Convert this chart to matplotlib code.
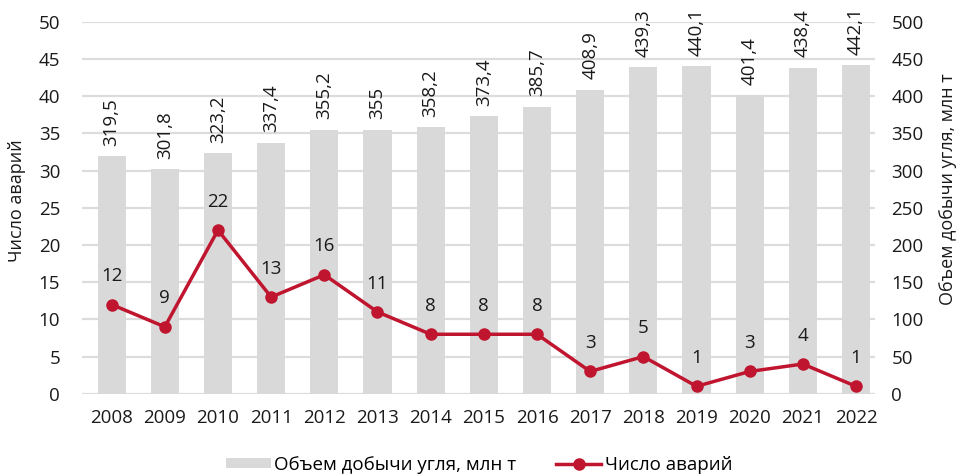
import matplotlib.pyplot as plt
import numpy as np

plt.rcParams['font.family'] = ['Open Sans', 'DejaVu Sans']

years = ['2008', '2009', '2010', '2011', '2012', '2013', '2014', '2015',
         '2016', '2017', '2018', '2019', '2020', '2021', '2022']
coal = [319.5, 301.8, 323.2, 337.4, 355.2, 355, 358.2, 373.4,
        385.7, 408.9, 439.3, 440.1, 401.4, 438.4, 442.1]
coal_labels = ['319,5', '301,8', '323,2', '337,4', '355,2', '355', '358,2', '373,4',
               '385,7', '408,9', '439,3', '440,1', '401,4', '438,4', '442,1']
accidents = [12, 9, 22, 13, 16, 11, 8, 8, 8, 3, 5, 1, 3, 4, 1]

bar_color = '#d9d9d9'
line_color = '#c0152f'
text_color = '#1a1a1a'
fs = 13.5

fig = plt.figure(figsize=(9.58, 4.75), dpi=100)
ax = fig.add_axes([0.086, 0.171, 0.827, 0.783])
ax2 = ax.twinx()

x = np.arange(len(years))

# bars on the right axis, drawn below the line
ax2.bar(x, coal, width=0.53, color=bar_color, zorder=1, label='Объем добычи угля, млн т')
for xi, v, lab in zip(x, coal, coal_labels):
    ax2.text(xi, v + 14, lab, rotation=90, ha='center', va='bottom', fontsize=fs, color=text_color)
ax2.set_ylim(0, 500)
ax2.set_yticks(np.arange(0, 501, 50))
ax2.set_ylabel('Объем добычи угля, млн т', fontsize=13, color=text_color)
ax2.yaxis.set_label_coords(1.081, 0.55)

ax.set_zorder(ax2.get_zorder() + 1)
ax.patch.set_visible(False)
ax.plot(x, accidents, color=line_color, lw=2.5, marker='o', ms=8, zorder=3, label='Число аварий')
for xi, v in zip(x, accidents):
    ax.text(xi, v + 2.6, str(v), ha='center', va='bottom', fontsize=fs, color=text_color)
ax.set_ylim(0, 50)
ax.set_yticks(np.arange(0, 51, 5))
ax.set_xlim(-0.55, 14.35)
ax.set_xticks(x)
ax.set_xticklabels(years)
ax.set_ylabel('Число аварий', fontsize=13, color=text_color)
ax.yaxis.set_label_coords(-0.071, 0.52)

ax2.grid(axis='y', color='#dcdcdc', lw=1.6, zorder=0)
ax2.set_axisbelow(True)

for a in (ax, ax2):
    for s in a.spines.values():
        s.set_visible(False)
    a.tick_params(length=0, labelsize=fs, colors=text_color)
ax.tick_params(axis='y', pad=16)
ax2.tick_params(axis='y', pad=12)
ax.tick_params(axis='x', pad=11)

h1, l1 = ax2.get_legend_handles_labels()
h2, l2 = ax.get_legend_handles_labels()
fig.legend(h1 + h2, l1 + l2, loc='center', bbox_to_anchor=(0.5, 0.021), ncol=2,
           frameon=False, fontsize=fs, columnspacing=2.1, handlelength=2.4,
           handleheight=0.45, handletextpad=0.2)

fig.savefig('out.png', dpi=100)
